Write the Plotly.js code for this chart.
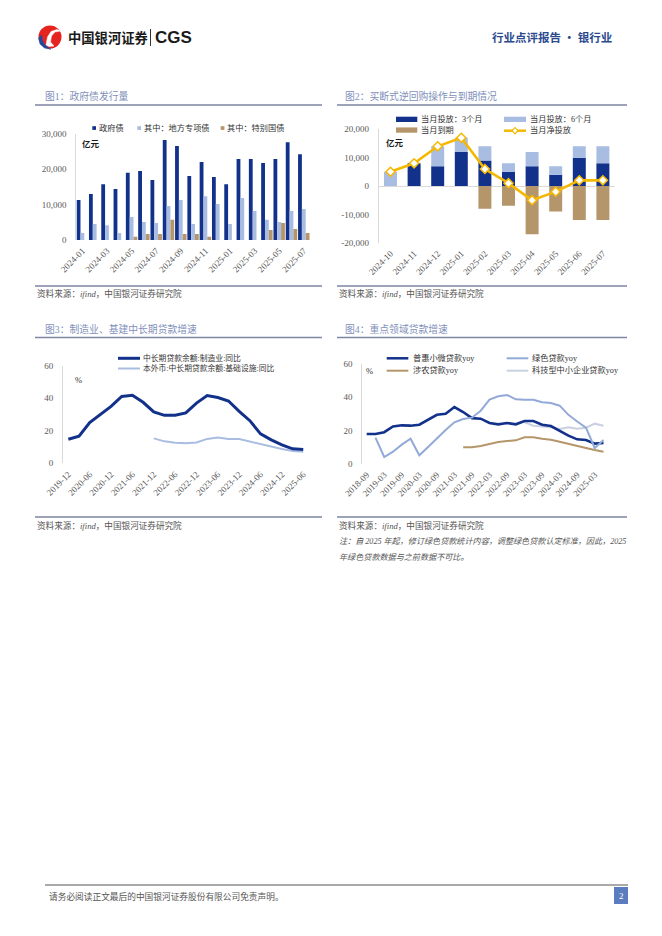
<!DOCTYPE html>
<html>
<head>
<meta charset="utf-8">
<script src="https://cdn.plot.ly/plotly-3.0.1.min.js"></script>
<style>
  html, body { margin: 0; padding: 0; background: #ffffff; }
  #page { width: 662px; height: 936px; }
</style>
</head>
<body>
<div id="page"></div>
<script>
// ---------------- DATA ----------------
// Fig 1: government bond issuance (亿元)
const months1 = ['2024-01','2024-02','2024-03','2024-04','2024-05','2024-06','2024-07','2024-08','2024-09','2024-10',
                 '2024-11','2024-12','2025-01','2025-02','2025-03','2025-04','2025-05','2025-06','2025-07'];
const govBond = [11300,13000,15800,14400,19000,19500,17000,28300,26600,18100,22100,17800,15800,22900,22900,21800,22900,27700,24300];
const localSpecial = [2000,4500,4200,2000,6500,5100,4800,9600,11300,4500,12400,10200,4500,11900,8200,5700,5100,8200,8800];
const specialTreasury = [0,0,0,0,900,1700,1700,5700,1700,1700,900,0,0,0,0,2800,4800,3100,2000];
const ticks1 = ['2024-01','2024-03','2024-05','2024-07','2024-09','2024-11','2025-01','2025-03','2025-05','2025-07'];
const yTicks1 = [0,10000,20000,30000];
const yText1 = ['0','10,000','20,000','30,000'];

// Fig 2: outright reverse repo (亿元)
const months2 = ['2024-10','2024-11','2024-12','2025-01','2025-02','2025-03','2025-04','2025-05','2025-06','2025-07'];
const repo3m = [0,8000,7000,12000,9000,5000,7000,4000,10000,8000];
const repo6m = [5000,0,7000,5000,5000,3000,5000,3000,4000,6000];
const repoMaturity = [0,0,0,0,-8000,-7000,-17000,-9000,-12000,-12000];
const repoNet = [5000,8000,14000,17000,6000,1000,-5000,-2000,2000,2000];
const yTicks2 = [-20000,-10000,0,10000,20000];
const yText2 = ['-20,000','-10,000','0','10,000','20,000'];

// Fig 3: medium/long-term loan growth (%)
const quarters3 = ['2019-12','2020-03','2020-06','2020-09','2020-12','2021-03','2021-06','2021-09','2021-12','2022-03',
                   '2022-06','2022-09','2022-12','2023-03','2023-06','2023-09','2023-12','2024-03','2024-06','2024-09',
                   '2024-12','2025-03','2025-06'];
const manufYoy = [14.8,16.7,25.1,30.3,35.0,41.1,41.8,37.5,31.6,29.5,29.6,31.0,37.0,41.6,40.4,38.3,31.9,26.2,18.1,14.4,11.3,8.9,8.5];
const infraYoy = [null,null,null,null,null,null,null,null,15.3,13.5,12.6,12.3,12.8,15.0,15.8,15.0,14.9,13.3,11.8,10.5,8.8,7.6,7.1];
const ticks3 = ['2019-12','2020-06','2020-12','2021-06','2021-12','2022-06','2022-12','2023-06','2023-12','2024-06','2024-12','2025-06'];

// Fig 4: key-sector loan growth (%)
const quarters4 = ['2018-09','2018-12','2019-03','2019-06','2019-09','2019-12','2020-03','2020-06','2020-09','2020-12',
                   '2021-03','2021-06','2021-09','2021-12','2022-03','2022-06','2022-09','2022-12','2023-03','2023-06',
                   '2023-09','2023-12','2024-03','2024-06','2024-09','2024-12','2025-03','2025-06'];
const inclusiveYoy = [18.0,18.0,19.1,22.5,23.2,23.0,23.6,26.5,29.5,30.2,34.2,31.2,27.5,27.2,24.6,23.8,24.6,23.8,25.8,25.8,23.6,22.8,20.0,17.0,14.8,14.4,12.2,12.6];
const greenYoy = [null,15.8,4.2,7.4,11.6,15.2,5.2,10.2,15.6,20.4,25.0,27.0,27.8,32.0,38.6,40.6,41.4,38.8,38.6,38.6,37.0,36.6,35.0,29.5,25.5,21.8,9.6,14.4];
const agriYoy = [null,null,null,null,null,null,null,null,null,null,null,10.0,10.0,10.8,12.0,13.2,13.8,14.2,16.0,16.0,15.2,14.6,13.4,12.0,10.6,9.6,8.4,7.4];
const techSmeYoy = [null,null,null,null,null,null,null,null,null,null,null,null,null,null,null,null,null,null,25.0,23.0,22.5,22.0,21.0,22.0,21.2,21.8,24.2,23.0];
const ticks4 = ['2018-09','2019-03','2019-09','2020-03','2020-09','2021-03','2021-09','2022-03','2022-09','2023-03','2023-09','2024-03','2024-09','2025-03'];
const yTicksPct = [0,20,40,60];

// ---------------- STYLE ----------------
const W = 662, H = 936;
const X = p => p / W;
const Y = p => 1 - p / H;
const SERIF = "'Liberation Serif', 'Noto Sans CJK SC', serif";
const CJK = "'Noto Sans CJK SC', sans-serif";
const NAVY = '#12318a', LIGHT = '#a9bde3', TAN = '#b5956a', GOLD = '#f5b800';
const GREEN = '#93aad8', TECH = '#c9d0e2';
const TICK = '#595959', TITLE = '#7f90bb', RULE = '#7d86a2';

const annotations = [];
const shapes = [];
function txt(x, y, text, size, color, extra) {
  annotations.push(Object.assign({
    x: X(x), y: Y(y), xref: 'paper', yref: 'paper', text: text, showarrow: false,
    xanchor: 'left', yanchor: 'middle', font: {family: SERIF, size: size, color: color}
  }, extra || {}));
}
function hline(x0, x1, y, color, w) {
  shapes.push({type: 'line', xref: 'paper', yref: 'paper', x0: X(x0), x1: X(x1), y0: Y(y), y1: Y(y),
               line: {color: color, width: w}});
}
function box(x0, y0, x1, y1, fill) {
  shapes.push({type: 'rect', xref: 'paper', yref: 'paper', x0: X(x0), x1: X(x1), y0: Y(y1), y1: Y(y0),
               fillcolor: fill, line: {width: 0}});
}
function path(pts, fill, stroke, w) {
  let d = pts.map((p, i) => (i ? 'L' : 'M') + X(p[0]) + ',' + Y(p[1])).join(' ') + ' Z';
  shapes.push({type: 'path', xref: 'paper', yref: 'paper', path: d, fillcolor: fill,
               line: {color: stroke, width: w}});
}

// ---------- page chrome ----------
// logo
shapes.push({type: 'circle', xref: 'paper', yref: 'paper', x0: X(38.5), x1: X(61.5), y0: Y(48.5), y1: Y(25.5),
             fillcolor: '#e52420', line: {width: 0}});
path([[38.6,38],[40,44],[44.5,48],[51,49.3],[45.5,45.5],[42.5,41],[41.5,35]], '#1f4b9c', '#1f4b9c', 0.5);
path([[46,45],[47.5,37],[51,31.5],[57,29.5],[61,31],[55,32],[51.5,36],[50.5,42],[54,46],[49,46.5]], '#ffffff', '#ffffff', 0.5);
txt(66, 37.5, '<b>中国银河证券</b>', 13.3, '#1a1a1a', {font: {family: CJK, size: 13.3, color: '#1a1a1a'}});
shapes.push({type: 'line', xref: 'paper', yref: 'paper', x0: X(150.5), x1: X(150.5), y0: Y(29), y1: Y(46),
             line: {color: '#333', width: 1}});
txt(153, 37.5, '<b>CGS</b>', 17, '#1a1a1a', {font: {family: "'Liberation Sans', Arial, sans-serif", size: 17, color: '#1a1a1a'}});
txt(614, 37.5, '<b>行业点评报告 · 银行业</b>', 11.5, '#2b4a8e', {xanchor: 'right', font: {family: CJK, size: 11.5, color: '#2b4a8e'}});

// footer
hline(45, 628, 885, '#555555', 1);
txt(47, 896, '请务必阅读正文最后的中国银河证券股份有限公司免责声明。', 8.7, '#555555');
box(614, 887, 628, 904, '#5b7dc0');
txt(621, 895.5, '2', 9, '#ffffff', {xanchor: 'center'});

// section titles & rules
txt(43, 96.5, '图1：政府债发行量', 9.8, TITLE);
txt(343, 96.5, '图2：买断式逆回购操作与到期情况', 9.8, TITLE);
hline(35, 322, 105, RULE, 1.3);
hline(337, 627, 105, RULE, 1.3);
hline(35, 322, 286, RULE, 1.3);
hline(337, 627, 286, RULE, 1.3);
txt(35, 293.5, '资料来源：<i>ifind</i>，中国银河证券研究院', 8.6, '#555555');
txt(337, 293.5, '资料来源：<i>ifind</i>，中国银河证券研究院', 8.6, '#555555');

txt(43, 329, '图3：制造业、基建中长期贷款增速', 9.8, TITLE);
txt(343, 329, '图4：重点领域贷款增速', 9.8, TITLE);
hline(35, 322, 337.5, RULE, 1.3);
hline(337, 627, 337.5, RULE, 1.3);
hline(35, 322, 517, RULE, 1.3);
hline(337, 627, 517, RULE, 1.3);
txt(35, 525, '资料来源：<i>ifind</i>，中国银河证券研究院', 8.6, '#555555');
txt(337, 525, '资料来源：<i>ifind</i>，中国银河证券研究院', 8.6, '#555555');
txt(337, 541.5, '<i>注：自 2025 年起，修订绿色贷款统计内容，调整绿色贷款认定标准，因此，2025</i>', 8.1, '#555555');
txt(337, 557.5, '<i>年绿色贷款数据与之前数据不可比。</i>', 8.1, '#555555');

// ---------- legends (custom) ----------
// fig1
box(92.3, 126.2, 96, 129.9, NAVY);  txt(96.5, 128, '政府债', 8.2, '#333');
box(137.3, 126.2, 141, 129.9, LIGHT); txt(141.5, 128, '其中：地方专项债', 8.2, '#333');
box(220.7, 126.2, 224.4, 129.9, TAN); txt(224.9, 128, '其中：特别国债', 8.2, '#333');
txt(80, 142.5, '<b>亿元</b>', 8.5, '#1a1a1a', {font: {family: CJK, size: 8.5, color: '#1a1a1a'}});
// fig2
box(396, 116.7, 417.3, 122, NAVY);  txt(419, 119.3, '当月投放：3个月', 8.2, '#333');
box(504, 116.7, 526, 122, LIGHT);   txt(527.5, 119.3, '当月投放：6个月', 8.2, '#333');
box(396, 127.4, 417.3, 132.7, TAN); txt(419, 130.2, '当月到期', 8.2, '#333');
hline(504, 526, 130.7, GOLD, 2.5);
path([[515,127.6],[518,130.7],[515,133.8],[512,130.7]], '#ffffff', GOLD, 1.2);
txt(527.5, 130.4, '当月净投放', 8.2, '#333');
txt(384, 141.5, '<b>亿元</b>', 8.5, '#1a1a1a', {font: {family: CJK, size: 8.5, color: '#1a1a1a'}});
// fig3
hline(118, 140, 358.3, NAVY, 3);   txt(140.5, 358, '中长期贷款余额:制造业:同比', 7.8, '#333');
hline(118, 140, 368.5, LIGHT, 2);  txt(140.5, 368.3, '本外币:中长期贷款余额:基础设施:同比', 7.8, '#333');
txt(73, 379.5, '%', 8.5, '#333');
// fig4
hline(386.7, 408.3, 358.3, NAVY, 2.5); txt(410.5, 358, '普惠小微贷款yoy', 8.2, '#333');
hline(506.7, 528.3, 358.3, GREEN, 2);  txt(529.5, 358, '绿色贷款yoy', 8.2, '#333');
hline(386.7, 408.3, 370.7, TAN, 2);    txt(410.5, 370.5, '涉农贷款yoy', 8.2, '#333');
hline(506.7, 528.3, 370.7, TECH, 2);   txt(529.5, 370.5, '科技型中小企业贷款yoy', 8.2, '#333');
txt(364, 371, '%', 8.5, '#333');

// ---------------- TRACES ----------------
const traces = [];
// fig1 grouped bars (manual offsets so fig2 can stack in overlay mode)
traces.push({type: 'bar', x: months1, y: govBond, xaxis: 'x', yaxis: 'y', name: '政府债',
             marker: {color: NAVY}, width: 0.31, offset: -0.47});
traces.push({type: 'bar', x: months1, y: localSpecial, xaxis: 'x', yaxis: 'y', name: '其中：地方专项债',
             marker: {color: LIGHT}, width: 0.31, offset: -0.16});
traces.push({type: 'bar', x: months1, y: specialTreasury, xaxis: 'x', yaxis: 'y', name: '其中：特别国债',
             marker: {color: TAN}, width: 0.31, offset: 0.15});
// fig2 stacked bars + net line
traces.push({type: 'bar', x: months2, y: repo3m, xaxis: 'x2', yaxis: 'y2', name: '当月投放：3个月',
             marker: {color: NAVY}, width: 0.55});
traces.push({type: 'bar', x: months2, y: repo6m, base: repo3m, xaxis: 'x2', yaxis: 'y2', name: '当月投放：6个月',
             marker: {color: LIGHT}, width: 0.55});
traces.push({type: 'bar', x: months2, y: repoMaturity, xaxis: 'x2', yaxis: 'y2', name: '当月到期',
             marker: {color: TAN}, width: 0.55});
traces.push({type: 'scatter', mode: 'lines+markers', x: months2, y: repoNet, xaxis: 'x2', yaxis: 'y2', name: '当月净投放',
             line: {color: GOLD, width: 2.6}, marker: {symbol: 'diamond', size: 7, color: '#ffffff', line: {color: GOLD, width: 1.5}}});
// fig3
traces.push({type: 'scatter', mode: 'lines', x: quarters3, y: infraYoy, xaxis: 'x3', yaxis: 'y3',
             name: '本外币:中长期贷款余额:基础设施:同比', line: {color: LIGHT, width: 2}});
traces.push({type: 'scatter', mode: 'lines', x: quarters3, y: manufYoy, xaxis: 'x3', yaxis: 'y3',
             name: '中长期贷款余额:制造业:同比', line: {color: NAVY, width: 3}});
// fig4
traces.push({type: 'scatter', mode: 'lines', x: quarters4, y: agriYoy, xaxis: 'x4', yaxis: 'y4',
             name: '涉农贷款yoy', line: {color: TAN, width: 2}});
traces.push({type: 'scatter', mode: 'lines', x: quarters4, y: techSmeYoy, xaxis: 'x4', yaxis: 'y4',
             name: '科技型中小企业贷款yoy', line: {color: TECH, width: 2}});
traces.push({type: 'scatter', mode: 'lines', x: quarters4, y: inclusiveYoy, xaxis: 'x4', yaxis: 'y4',
             name: '普惠小微贷款yoy', line: {color: NAVY, width: 2.6}});
traces.push({type: 'scatter', mode: 'lines', x: quarters4, y: greenYoy, xaxis: 'x4', yaxis: 'y4',
             name: '绿色贷款yoy', line: {color: GREEN, width: 2}});

// ---------------- AXES ----------------
const tickFont = {family: SERIF, size: 9, color: TICK};
function xCat(domain, anchor, cats, tickvals) {
  return {type: 'category', domain: domain, anchor: anchor, range: [-0.5, cats.length - 0.5],
          categoryorder: 'array', categoryarray: cats, tickmode: 'array', tickvals: tickvals,
          tickangle: -45, tickfont: tickFont, showgrid: false, zeroline: false, showline: false,
          ticks: '', ticklabelstandoff: 3, fixedrange: true};
}
function yLin(domain, anchor, range, tickvals, ticktext) {
  const o = {domain: domain, anchor: anchor, range: range, tickmode: 'array', tickvals: tickvals,
             tickfont: tickFont, showgrid: false, zeroline: false, showline: true, linecolor: '#d9d9d9',
             linewidth: 1, ticks: '', ticklabelstandoff: 7, fixedrange: true};
  if (ticktext) o.ticktext = ticktext;
  return o;
}

const layout = {
  width: W, height: H, autosize: false,
  margin: {l: 0, r: 0, t: 0, b: 0},
  paper_bgcolor: '#ffffff', plot_bgcolor: 'rgba(0,0,0,0)',
  showlegend: false, barmode: 'overlay',
  font: {family: SERIF},
  xaxis: xCat([X(76.3), X(310)], 'y', months1, ticks1),
  yaxis: yLin([Y(240), Y(134)], 'x', [0, 30000], yTicks1, yText1),
  xaxis2: xCat([X(378.7), X(614.7)], 'y2', months2, months2),
  yaxis2: Object.assign(yLin([Y(242.7), Y(129.3)], 'x2', [-20000, 20000], yTicks2, yText2),
                        {zeroline: true, zerolinecolor: '#d9d9d9', zerolinewidth: 1}),
  xaxis3: xCat([X(63), X(308.6)], 'y3', quarters3, ticks3),
  yaxis3: yLin([Y(463.3), Y(365.7)], 'x3', [0, 60], yTicksPct),
  xaxis4: xCat([X(362.3), X(607.9)], 'y4', quarters4, ticks4),
  yaxis4: yLin([Y(464), Y(364)], 'x4', [0, 60], yTicksPct),
  annotations: annotations,
  shapes: shapes
};

Plotly.newPlot('page', traces, layout, {displayModeBar: false, staticPlot: true});
</script>
</body>
</html>
